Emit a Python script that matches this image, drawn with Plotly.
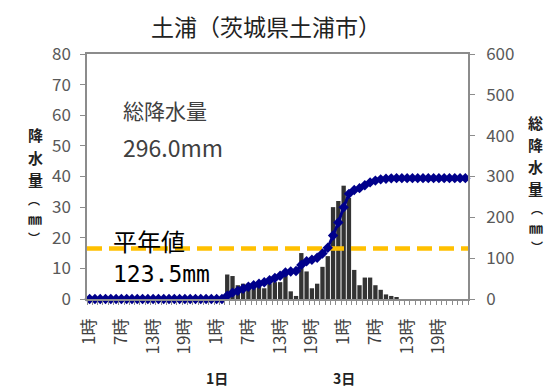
import plotly.graph_objects as go
import numpy as np

# ---- data ----
hour_labels = [f"{h}時" for h in list(range(1, 25)) * 3]
hourly = [0]*26 + [8, 7.5, 4.5, 5, 5, 3.5, 4, 3.5, 5, 5.5, 5.5, 8, 2.5, 1,
                   15, 9, 3.5, 5, 10.5, 14, 30, 32, 37, 33, 9.5, 4.5, 7, 7, 4.5, 3, 1.5, 1, 0.5]
hourly = hourly + [0]*(72 - len(hourly))
cumulative = list(np.cumsum(hourly))
normal_value = 123.5
total_value = 296.0
shown_hours = [0, 6, 12, 18, 24, 30, 36, 42, 48, 54, 60, 66]
day_labels = {24: "1日", 48: "3日"}
left_title = ["降", "水", "量", "︵", "㎜", "︶"]
right_title = ["総", "降", "水", "量", "︵", "㎜", "︶"]

x = list(range(len(hourly)))
FONT = "Noto Sans CJK JP"
GRAY = "#595959"
AX = "#8c8c8c"

# page body has an 8px margin -> shift everything by OFF
OFF = 8
W, H = 559, 390
L, T = 87 - OFF, 54 - OFF
R = W - (468 - OFF)
B = H - (299 - OFF)

fig = go.Figure()
fig.add_trace(go.Bar(x=x, y=hourly, marker=dict(color="#333333", line_width=0),
                     width=0.82, yaxis="y", showlegend=False))
fig.add_trace(go.Scatter(x=[-0.5, len(hourly) - 0.5], y=[normal_value, normal_value],
                         mode="lines", line=dict(color="#FFC000", width=4.5, dash="15px,7px"),
                         yaxis="y2", showlegend=False))
fig.add_trace(go.Scatter(x=x, y=cumulative, mode="lines+markers",
                         line=dict(color="#00008B", width=3),
                         marker=dict(symbol="diamond", size=8, color="#00008B"),
                         yaxis="y2", showlegend=False, cliponaxis=False))

fig.update_layout(
    width=W, height=H,
    margin=dict(l=L, r=R, t=T, b=B),
    paper_bgcolor="white", plot_bgcolor="white",
    font=dict(family=FONT, color=GRAY),
    title=dict(text="土浦（茨城県土浦市）", x=(266 - OFF) / W, xanchor="center",
               y=1 - (28 - OFF) / H, yanchor="middle",
               font=dict(size=23, color="#222222", family=FONT)),
    xaxis=dict(range=[-0.5, len(hourly) - 0.5], tickmode="array", tickvals=shown_hours,
               ticktext=[hour_labels[i] for i in shown_hours], tickangle=-90,
               tickfont=dict(size=17, color="#404040"), ticks="", ticklabelstandoff=11,
               showgrid=False, zeroline=False,
               showline=True, linecolor=AX, linewidth=1.5, mirror=True,
               minor=dict(tick0=-0.5, dtick=1, ticks="outside", ticklen=4,
                          tickcolor=AX, showgrid=False)),
    yaxis=dict(range=[0, 80], dtick=10, ticks="outside", ticklen=5, tickcolor=AX,
               showline=True, linecolor=AX, linewidth=1.5, showgrid=False,
               zeroline=False, ticklabelstandoff=6, tickfont=dict(size=17, color=GRAY)),
    yaxis2=dict(range=[0, 600], dtick=100, overlaying="y", side="right", ticks="outside",
                ticklen=5, tickcolor=AX, showline=True, linecolor=AX,
                linewidth=1.5, showgrid=False, zeroline=False, ticklabelstandoff=8,
                tickfont=dict(size=17, color=GRAY)),
)

ann = []
left_y = [135, 157, 179, 199, 218, 237]
right_y = [122, 144, 166, 188, 208, 227, 246]
sizes = {"︵": 12, "︶": 12, "㎜": 14}
for ch, yy in zip(left_title, left_y):
    ann.append(dict(text=f"<b>{ch}</b>", x=26, y=yy, showarrow=False,
                    font=dict(size=sizes.get(ch, 15), color="#222222", family=FONT)))
for ch, yy in zip(right_title, right_y):
    ann.append(dict(text=f"<b>{ch}</b>", x=545, y=yy, showarrow=False,
                    font=dict(size=sizes.get(ch, 15), color="#222222", family=FONT)))
ann.append(dict(text="総降水量", x=121, y=110, xanchor="left", showarrow=False,
                font=dict(size=21, color="#404040", family=FONT)))
ann.append(dict(text=f"{total_value:.1f}mm", x=121, y=147, xanchor="left", showarrow=False,
                font=dict(size=23, color="#404040", family=FONT)))
ann.append(dict(text="平年値", x=111, y=240, xanchor="left", showarrow=False,
                font=dict(size=24, color="#000000", family=FONT)))
ann.append(dict(text=f"{normal_value}mm", x=111, y=274, xanchor="left", showarrow=False,
                font=dict(size=23, color="#000000", family="DejaVu Sans Mono")))

pw, ph = W - L - R, H - T - B
final = []
for a in ann:
    px, py = a["x"] - OFF, a["y"] - OFF
    a["x"] = (px - L) / pw
    a["y"] = 1 - (py - T) / ph
    a["xref"] = "paper"; a["yref"] = "paper"
    a["yanchor"] = "middle"
    final.append(a)
for k, v in day_labels.items():
    final.append(dict(text=f"<b>{v}</b>", x=k, y=0, xref="x", yref="paper", yanchor="middle",
                      yshift=-79, showarrow=False,
                      font=dict(size=14, color="#222222", family=FONT)))
fig.update_layout(annotations=final)

fig.write_html("out.html")
